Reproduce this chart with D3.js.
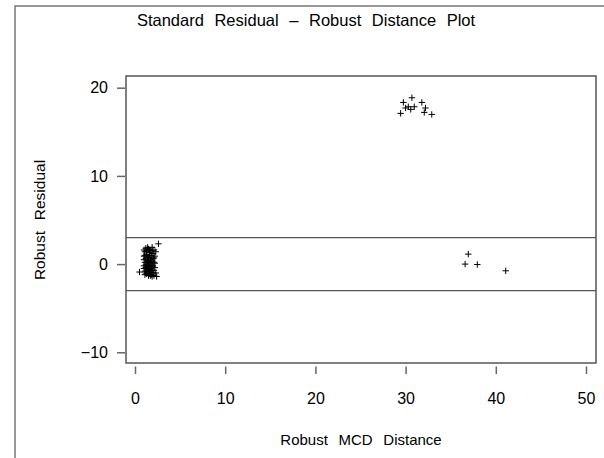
<!DOCTYPE html>
<html>
<head>
<meta charset="utf-8">
<script src="https://cdn.jsdelivr.net/npm/d3@7"></script>
<style>
  body { margin: 0; background: #fff; }
  text { font-family: "Liberation Sans", Arial, Helvetica, sans-serif; fill: #000; }
</style>
</head>
<body>
<div id="chart"></div>
<script>
// robust MCD distance / robust residual pairs
var distMain  = [1.2,1.5,1.9,2.1,1.1,1.6,2.0,1.3,1.8,1.0,1.5,2.2,1.2,1.7,2.0,1.4,1.9,1.1,1.6,2.1,
                 1.3,1.8,1.0,1.5,2.0,1.2,1.7,2.2,1.4,1.9,1.1,1.6,2.0,1.3,1.8,1.5,2.1,1.2,1.7,1.4,
                 1.0,2.3,1.9,1.3,1.6,1.1,2.1,1.4,1.8,1.0,1.5,2.2,1.2,1.7,1.9,1.4,1.6,1.0,2.1,1.3,
                 1.8,1.5,1.1,1.9,2.4,2.6,0.5,2.3,1.7,1.6];
var residMain = [1.8,1.7,1.9,1.6,1.4,1.3,1.2,1.1,1.0,0.9,0.8,0.9,0.6,0.5,0.6,0.4,0.3,0.2,0.1,0.2,
                 0.0,-0.1,-0.2,-0.3,-0.2,-0.4,-0.5,-0.4,-0.6,-0.7,-0.8,-0.9,-1.0,-1.1,-1.2,-1.3,-1.3,-1.0,1.5,1.9,
                 1.6,1.4,1.5,1.5,1.0,1.0,0.7,0.7,0.7,0.5,0.3,0.1,-0.1,0.2,-0.3,-0.2,-0.6,-0.5,-0.7,-0.8,
                 -0.9,-1.0,-1.2,-1.4,-1.4,2.3,-0.9,-1.0,-1.3,1.6];
var distHigh  = [30.7,29.75,31.8,30.3,30.96,30.57,32.2,32.07,29.45,32.9,30.0];
var residHigh = [18.86,18.33,18.33,17.84,17.84,17.54,17.7,17.2,17.09,16.97,17.7];
var distOut   = [36.95,36.6,37.95,41.1];
var residOut  = [1.13,0.0,-0.05,-0.76];

var xTicks = [0, 10, 20, 30, 40, 50];
var yTicks = [-10, 0, 10, 20];
var cutoffs = [3, -3];

var W = 604, H = 458;
var frame = {left: 126, right: 596, top: 76, bottom: 363};

var svg = d3.select("#chart").append("svg")
    .attr("width", W).attr("height", H);

// outer page border (left + top only)
svg.append("path")
    .attr("d", "M15," + H + "V6H" + W)
    .attr("fill", "none").attr("stroke", "#777").attr("stroke-width", 1.5);

var x = d3.scaleLinear().domain([0, 50]).range([135, 586]);
var y = d3.scaleLinear().domain([-10, 20]).range([352.3, 87.7]);

var xAxis = d3.axisBottom(x).tickValues(xTicks).tickSize(7.5).tickPadding(18.5);
var yAxis = d3.axisLeft(y).tickValues(yTicks).tickSize(8).tickPadding(9);

var gx = svg.append("g")
    .attr("transform", "translate(0,366.5)")
    .call(xAxis);
var gy = svg.append("g")
    .attr("transform", "translate(125,0)")
    .call(yAxis);

[gx, gy].forEach(function(g) {
  g.select(".domain").remove();
  g.selectAll(".tick line").attr("stroke", "#666").attr("stroke-width", 1.5);
  g.selectAll(".tick text").attr("font-size", 16).attr("fill", "#000")
    .style("font-family", '"Liberation Sans", Arial, sans-serif');
});

// plot frame
svg.append("rect")
    .attr("x", frame.left).attr("y", frame.top)
    .attr("width", frame.right - frame.left).attr("height", frame.bottom - frame.top)
    .attr("fill", "none").attr("stroke", "#555").attr("stroke-width", 1.5);

// residual cutoff lines
svg.selectAll(".cut").data(cutoffs)
  .enter().append("line")
    .attr("class", "cut")
    .attr("x1", frame.left).attr("x2", frame.right)
    .attr("y1", function(d) { return y(d); })
    .attr("y2", function(d) { return y(d); })
    .attr("stroke", "#555").attr("stroke-width", 1.2);

var pts = [];
[[distMain, residMain], [distHigh, residHigh], [distOut, residOut]].forEach(function(s) {
  s[0].forEach(function(d, i) { pts.push([d, s[1][i]]); });
});

var arm = 3.2;
svg.append("g").selectAll("path").data(pts)
  .enter().append("path")
    .attr("d", function(d) {
      var px = x(d[0]), py = y(d[1]);
      return "M" + (px - arm) + "," + py + "H" + (px + arm) +
             "M" + px + "," + (py - arm) + "V" + (py + arm);
    })
    .attr("stroke", "#000").attr("stroke-width", 1).attr("fill", "none");

svg.append("text")
    .attr("x", 306).attr("y", 26)
    .attr("text-anchor", "middle")
    .attr("font-size", 16.5)
    .style("word-spacing", "6px")
    .text("Standard Residual – Robust Distance Plot");

svg.append("text")
    .attr("x", 361).attr("y", 445)
    .attr("text-anchor", "middle")
    .attr("font-size", 15)
    .style("word-spacing", "6.5px")
    .text("Robust MCD Distance");

svg.append("text")
    .attr("transform", "translate(45,220) rotate(-90)")
    .attr("text-anchor", "middle")
    .attr("font-size", 15.5)
    .style("word-spacing", "6.5px")
    .text("Robust Residual");
</script>
</body>
</html>
